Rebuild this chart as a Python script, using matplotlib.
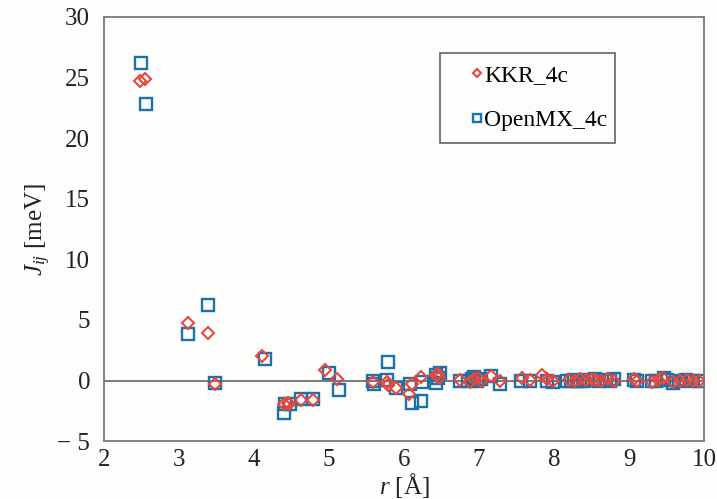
import matplotlib
matplotlib.use("Agg")
import matplotlib.pyplot as plt
from matplotlib.patches import Rectangle

plt.rcParams['font.family'] = ['Liberation Serif', 'DejaVu Serif']
plt.rcParams['mathtext.fontset'] = 'custom'
plt.rcParams['mathtext.rm'] = 'Liberation Serif'
plt.rcParams['mathtext.it'] = 'Liberation Serif:italic'

# exchange coupling vs. distance, KKR (4c)
r_kkr = [2.48, 2.55, 3.12, 3.39, 3.48, 4.11, 4.40, 4.45, 4.47, 4.62, 4.79,
         4.95, 5.10, 5.58, 5.77, 5.78, 5.89, 6.06, 6.10, 6.23, 6.42, 6.45,
         6.47, 6.75, 6.88, 6.93, 6.98, 7.02, 7.16, 7.28, 7.57, 7.68, 7.84,
         7.91, 7.98, 8.20, 8.28, 8.35, 8.42, 8.50, 8.56, 8.62, 8.72, 8.80,
         9.06, 9.10, 9.30, 9.38, 9.45, 9.58, 9.68, 9.77, 9.85, 9.93]
j_kkr = [24.7, 24.9, 4.75, 3.92, -0.30, 2.05, -1.90, -1.85, -1.95, -1.60, -1.60,
         0.87, 0.12, -0.10, -0.10, -0.35, -0.65, -1.09, -0.30, 0.25, 0.45, 0.55,
         0.20, 0.05, -0.10, 0.15, 0.20, -0.05, 0.40, -0.05, 0.20, 0.05, 0.42,
         0.10, -0.05, 0.05, -0.02, 0.10, 0.05, 0.15, 0.05, 0.00, 0.10, -0.05,
         0.10, 0.00, -0.10, 0.05, 0.20, -0.10, 0.00, 0.05, -0.05, 0.00]

# exchange coupling vs. distance, OpenMX (4c)
r_omx = [2.50, 2.56, 3.12, 3.39, 3.48, 4.15, 4.40, 4.41, 4.48, 4.62, 4.79,
         5.00, 5.13, 5.58, 5.60, 5.77, 5.78, 5.89, 6.08, 6.11, 6.23, 6.24,
         6.42, 6.43, 6.45, 6.48, 6.75, 6.85, 6.90, 6.93, 6.97, 7.02, 7.16,
         7.28, 7.56, 7.68, 7.90, 7.98, 8.17, 8.22, 8.27, 8.30, 8.35, 8.40,
         8.45, 8.55, 8.60, 8.69, 8.75, 8.80, 9.06, 9.10, 9.30, 9.36, 9.46,
         9.50, 9.59, 9.67, 9.76, 9.85, 9.93]
j_omx = [26.2, 22.8, 3.80, 6.23, -0.20, 1.80, -2.65, -1.90, -1.90, -1.55, -1.55,
         0.65, -0.82, 0.00, -0.30, 0.05, 1.50, -0.65, -0.30, -1.85, -1.65, -0.10,
         0.45, -0.20, 0.20, 0.60, 0.00, 0.00, 0.10, 0.25, -0.05, 0.10, 0.35,
         -0.30, -0.05, 0.00, 0.00, -0.10, 0.00, 0.00, 0.05, -0.05, 0.00, 0.00,
         0.05, 0.10, 0.00, 0.05, 0.00, 0.10, 0.05, 0.00, 0.00, 0.00, 0.20,
         0.05, -0.20, 0.00, 0.05, 0.00, 0.00]

x_ticks = [2, 3, 4, 5, 6, 7, 8, 9, 10]
y_ticks = [-5, 0, 5, 10, 15, 20, 25, 30]
y_ticklabels = ['\u2212 5', '0', '5', '10', '15', '20', '25', '30']

red = '#e8473d'
blue = '#1a72a8'
grey = '#7a7a7a'
txt = '#222222'

fig = plt.figure(figsize=(7.17, 4.99), dpi=100, facecolor='#fdfdfc')
ax = fig.add_axes([0.145, 0.116, 0.837, 0.850], facecolor='#fdfdfc')

ax.axhline(0, color=grey, lw=1.4, zorder=1)

ax.plot(r_kkr, j_kkr, ls='none', marker='D', ms=5.8, mfc='none', mec=red,
        mew=1.5, label='KKR_4c', zorder=3)
ax.plot(r_omx, j_omx, ls='none', marker='s', ms=8, mfc='none', mec=blue,
        mew=1.7, label='OpenMX_4c', zorder=2)

ax.set_xlim(2, 10)
ax.set_ylim(-5, 30)
ax.set_xticks(x_ticks)
ax.set_yticks(y_ticks)
ax.set_yticklabels(y_ticklabels)
ax.tick_params(axis='both', length=0, labelsize=18, colors=txt)
ax.tick_params(axis='x', pad=6)
ax.tick_params(axis='y', pad=10)

for s in ax.spines.values():
    s.set_color(grey)
    s.set_linewidth(1.3)

ax.set_xlabel('$r$ [\u00c5]', fontsize=18, color=txt, labelpad=0)
ax.set_ylabel('$J_{ij}$ [meV]', fontsize=18, color=txt)
ax.yaxis.set_label_coords(-0.085, 0.5)

# legend box drawn separately so the entries can sit off-centre in it
ax.add_patch(Rectangle((0.56, 0.703), 0.292, 0.212, transform=ax.transAxes,
                       fill=True, facecolor='#fdfdfc', edgecolor='#555555',
                       lw=1.1, zorder=4))
leg = ax.legend(loc='center left', bbox_to_anchor=(0.612, 0.809), borderaxespad=0,
                fontsize=17, frameon=False, handlelength=0.5, handletextpad=0.05,
                borderpad=0, labelspacing=1.0, markerscale=0.75)
leg.set_zorder(5)

fig.savefig('out.png', dpi=100, facecolor=fig.get_facecolor())
